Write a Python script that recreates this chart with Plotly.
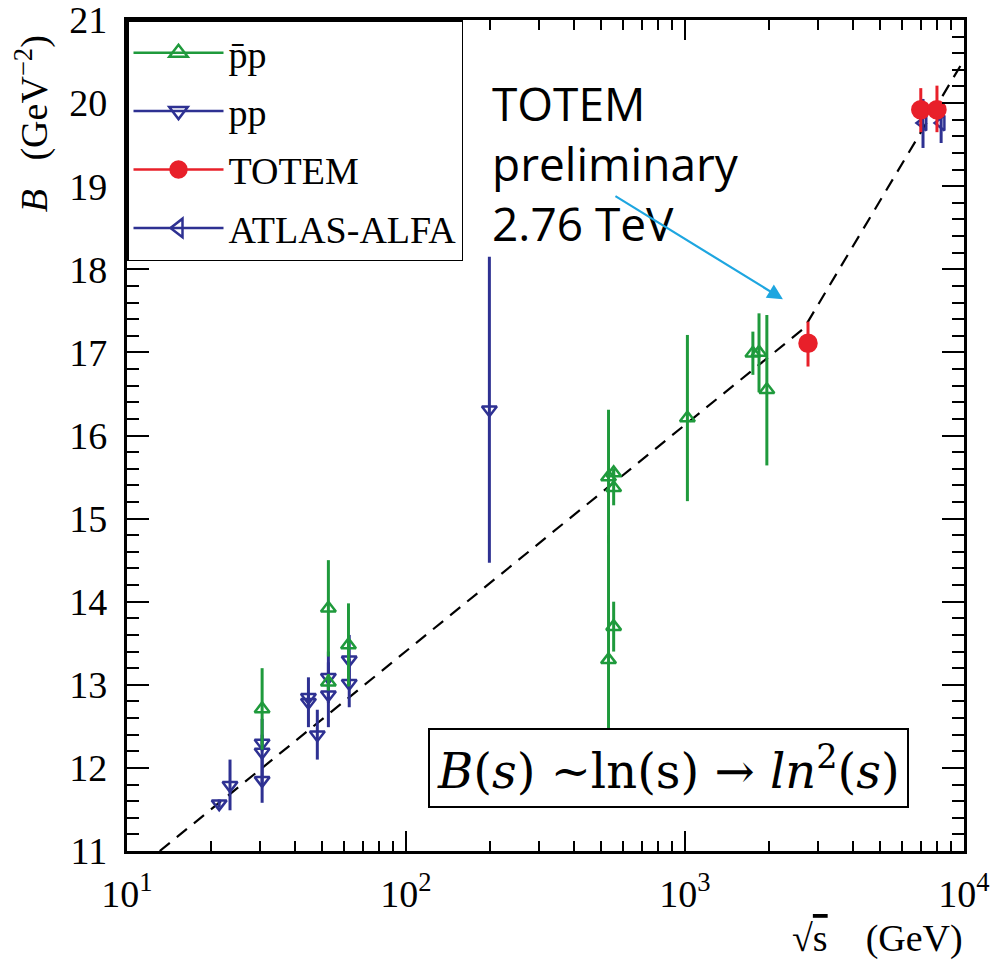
import plotly.graph_objects as go

# ---------------- data ----------------
# p̄p (green, open up-triangles)
ppbar_x = [30.5, 52.7, 52.7, 62.2, 532, 532, 555, 555, 555, 1020, 1751, 1842, 1965]
ppbar_y = [12.71, 13.92, 13.03, 13.48, 15.50, 13.30, 15.55, 15.37, 13.70, 16.21, 16.99, 17.00, 16.55]
ppbar_ep = [0.49, 0.58, 0.10, 0.50, 0.81, 1.50, 0.05, 0.21, 0.30, 1.00, 0.26, 0.47, 0.90]
ppbar_em = [0.49, 0.58, 0.10, 0.50, 0.80, 1.50, 0.05, 0.21, 0.30, 1.00, 0.26, 0.48, 0.91]

# pp (blue, open down-triangles)
pp_x = [21.4, 23.4, 30.5, 30.5, 30.5, 44.7, 44.7, 48.1, 52.7, 52.7, 62.6, 62.6, 199]
pp_y = [11.57, 11.79, 12.30, 12.19, 11.85, 12.85, 12.79, 12.40, 13.09, 12.88, 13.30, 13.02, 16.31]
pp_ep = [0.05, 0.31, 0.10, 0.40, 0.27, 0.05, 0.30, 0.30, 0.31, 0.39, 0.30, 0.29, 1.84]
pp_em = [0.05, 0.30, 0.10, 0.40, 0.27, 0.05, 0.30, 0.30, 0.31, 0.39, 0.30, 0.29, 1.84]

# TOTEM (red filled circles)
totem_x = [2760, 7000, 8000]
totem_y = [17.11, 19.92, 19.92]
totem_ep = [0.26, 0.26, 0.29]
totem_em = [0.28, 0.27, 0.27]

# ATLAS-ALFA (blue open left-triangles)
atlas_x = [7130, 8280]
atlas_y = [19.76, 19.76]
atlas_ep = [0.29, 0.07]
atlas_em = [0.30, 0.24]

# dashed fit line
fit_x = [13.1, 2670, 10000]
fit_y = [11.0, 17.29, 20.52]

x_major = [10, 100, 1000, 10000]
x_major_text = ["10<sup>1</sup>", "10<sup>2</sup>", "10<sup>3</sup>", "10<sup>4</sup>"]
x_minor = [m * d for d in (10, 100, 1000) for m in range(2, 10)]

GREEN = "#1f9a3c"
BLUE = "#2e3192"
RED = "#e8202a"
ARROW = "#1ea6e0"
SERIF = "Liberation Serif"

fig = go.Figure()

fig.add_trace(go.Scatter(x=fit_x, y=fit_y, mode="lines",
                         line=dict(color="black", width=2.2, dash="13px,9px"),
                         showlegend=False, hoverinfo="skip"))

def data_trace(x, y, ep, em, color, symbol, size, name):
    return go.Scatter(
        x=x, y=y, mode="markers", name=name, showlegend=False,
        marker=dict(symbol=symbol, size=size, color=color,
                    line=dict(color=color, width=2.5)),
        error_y=dict(type="data", symmetric=False, array=ep, arrayminus=em,
                     color=color, thickness=3, width=0))

fig.add_trace(data_trace(pp_x, pp_y, pp_ep, pp_em, BLUE, "triangle-down-open", 13, "pp"))
fig.add_trace(data_trace(ppbar_x, ppbar_y, ppbar_ep, ppbar_em, GREEN, "triangle-up-open", 13, "p̄p"))
fig.add_trace(data_trace(atlas_x, atlas_y, atlas_ep, atlas_em, BLUE, "triangle-left-open", 13, "ATLAS-ALFA"))
fig.add_trace(data_trace(totem_x, totem_y, totem_ep, totem_em, RED, "circle", 17, "TOTEM"))

# legend-only entries (line + marker symbols)
legend_items = [("p̄p", GREEN, "triangle-up-open", 17),
                ("pp", BLUE, "triangle-down-open", 17),
                ("TOTEM", RED, "circle", 20),
                ("ATLAS-ALFA", BLUE, "triangle-left-open", 17)]
for i, (nm, c, s, sz) in enumerate(legend_items):
    fig.add_trace(go.Scatter(x=[None], y=[None], mode="lines+markers", name=nm,
                             legendgroup=f"g{i}",
                             line=dict(color=c, width=2.5),
                             marker=dict(symbol=s, size=sz, color=c, line=dict(color=c, width=2.5))))

fig.update_layout(
    width=994, height=961,
    margin=dict(l=127, r=30, t=20, b=110, autoexpand=False),
    paper_bgcolor="white", plot_bgcolor="white",
    font=dict(family=SERIF, size=38, color="black"),
    showlegend=True,
    legend=dict(x=0, y=1, xanchor="left", yanchor="top",
                bordercolor="black", borderwidth=1.5, bgcolor="white",
                font=dict(family=SERIF, size=38), traceorder="grouped",
                tracegroupgap=6, itemwidth=90),
    xaxis=dict(type="log", range=[1, 4], showline=True, linecolor="black", linewidth=2.5,
               mirror="ticks", ticks="inside", ticklen=20, tickwidth=2, tickcolor="black",
               tickvals=x_major, ticktext=x_major_text, showgrid=False, zeroline=False,
               tickfont=dict(family=SERIF, size=38), ticklabelstandoff=8,
               ticklabeloverflow="allow", automargin=False,
               minor=dict(tickvals=x_minor, ticks="inside", ticklen=10, tickwidth=2,
                          tickcolor="black", showgrid=False)),
    yaxis=dict(range=[11, 21], dtick=1, showline=True, linecolor="black", linewidth=2.5,
               mirror="ticks", ticks="inside", ticklen=22, tickwidth=2, tickcolor="black",
               showgrid=False, zeroline=False, tickfont=dict(family=SERIF, size=38),
               ticksuffix="\u00a0", ticklabeloverflow="allow", automargin=False,
               minor=dict(dtick=0.2, ticks="inside", ticklen=12, tickwidth=2,
                          tickcolor="black", showgrid=False)),
)

fig.add_annotation(xref="paper", yref="paper", x=-0.113, y=0.875,
                   text="<i>B</i>   (GeV<sup>−2</sup>)", textangle=-90, showarrow=False,
                   font=dict(family=SERIF, size=38), xanchor="center", yanchor="middle")
fig.add_annotation(xref="paper", yref="paper", x=0.897, y=-0.105,
                   text="√<span style='text-decoration:overline'>s</span>    (GeV)",
                   showarrow=False, font=dict(family=SERIF, size=38),
                   xanchor="center", yanchor="middle")

fig.add_annotation(xref="paper", yref="paper", x=0.4337, y=0.94,
                   text="TOTEM<br>preliminary<br>2.76 TeV", showarrow=False, align="left",
                   font=dict(family="Open Sans", size=46, color="black"),
                   xanchor="left", yanchor="top")

# arrow (head position in data coordinates; log axis uses log10 value)
fig.add_annotation(xref="x", yref="y", x=3.351, y=17.64, ax=-169, ay=-104,
                   axref="pixel", ayref="pixel", text="", showarrow=True,
                   arrowhead=2, arrowsize=1.4, arrowwidth=2.2, arrowcolor=ARROW)

fig.add_annotation(xref="paper", yref="paper", x=0.647, y=0.0999,
                   text="<i>B</i>(<i>s</i>) ~ln(s) → <i>ln</i><sup>2</sup>(<i>s</i>)",
                   showarrow=False, font=dict(family="DejaVu Serif", size=48),
                   bordercolor="black", borderwidth=2, borderpad=7, bgcolor="white",
                   xanchor="center", yanchor="middle")

fig.write_html("out.html")
